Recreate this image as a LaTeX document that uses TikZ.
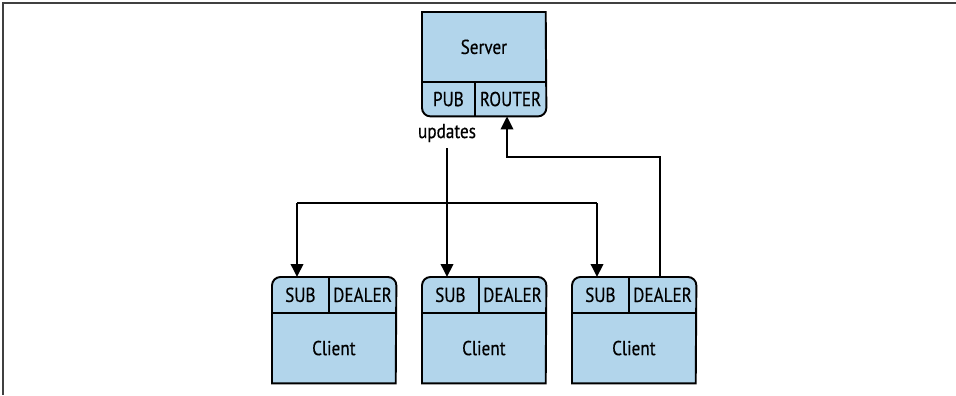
\documentclass[tikz,border=0pt]{standalone}
\usepackage{fontspec}
\setmainfont{PT Sans}[FakeStretch=0.85, FakeBold=0.4]
\usepackage{tikz}
\usetikzlibrary{arrows.meta, positioning, calc}
\definecolor{boxblue}{RGB}{178,213,235}
\tikzset{
  part/.style={inner sep=0pt, anchor=north west, align=center},
  outline/.style={draw=black, fill=boxblue, line width=1.1pt},
  divider/.style={line width=1.1pt},
  arrow/.style={-{Triangle[length=2.6mm, width=2.5mm]}, line width=1.1pt},
  wire/.style={line width=1.1pt},
  frame/.style={line width=0.8pt, black!75},
  every node/.style={font=\fontsize{11.5}{13}\selectfont}
}

\begin{document}
\begin{tikzpicture}
    \useasboundingbox (0,0) rectangle (19.12,7.9);
    \draw[frame] (19.12,7.84) -- (0.06,7.84) -- (0.06,0);

    % server
    \node[part, minimum width=2.46cm, minimum height=1.38cm] (srv) at (8.44,7.66) {};
    \node[part, minimum width=1.04cm, minimum height=0.68cm] (pub) at (srv.south west) {};
    \node[part, minimum width=1.42cm, minimum height=0.68cm] (router) at (pub.north east) {};
    \draw[outline] (srv.north west) -- (srv.north east) [rounded corners=0.17cm] -- (router.south east) -- (pub.south west) [sharp corners] -- cycle;
    \draw[divider] (srv.south west) -- (srv.south east);
    \draw[divider] (pub.north east) -- (pub.south east);
    \node at (srv.center) {Server};
    \node at (pub.center) {PUB};
    \node at (router.center) {ROUTER};

    % clients
    \foreach \i/\x in {1/5.44, 2/8.44, 3/11.44} {
      \node[part, minimum width=1.12cm, minimum height=0.70cm] (sub\i) at (\x,2.36) {};
      \node[part, minimum width=1.34cm, minimum height=0.70cm] (dealer\i) at (sub\i.north east) {};
      \node[part, minimum width=2.46cm, minimum height=1.40cm] (cli\i) at (sub\i.south west) {};
      \draw[outline] (cli\i.south east) -- (cli\i.south west) [rounded corners=0.17cm] -- (sub\i.north west) -- (dealer\i.north east) [sharp corners] -- cycle;
      \draw[divider] (cli\i.north west) -- (cli\i.north east);
      \draw[divider] (sub\i.north east) -- (sub\i.south east);
      \node at (sub\i.center) {SUB};
      \node at (dealer\i.center) {DEALER};
      \node at (cli\i.center) {Client};
      \coordinate (in\i) at ($(sub\i.north west)+(0.5,0)$);
      \coordinate (fork\i) at ($(sub\i.north west)+(0.5,1.48)$);
    }

    % connectors
    \node (upd) at (8.94,5.24) {updates};
    \draw[arrow] (upd.south) -- (in2);
    \draw[wire] (fork1) -- (fork3);
    \draw[arrow] (fork1) -- (in1);
    \draw[arrow] (fork3) -- (in3);
    \coordinate (ret) at (10.14,4.76);
    \draw[arrow] ($(dealer3.north west)+(0.62,0)$) |- (ret) -- (ret |- router.south);
\end{tikzpicture}
\end{document}
